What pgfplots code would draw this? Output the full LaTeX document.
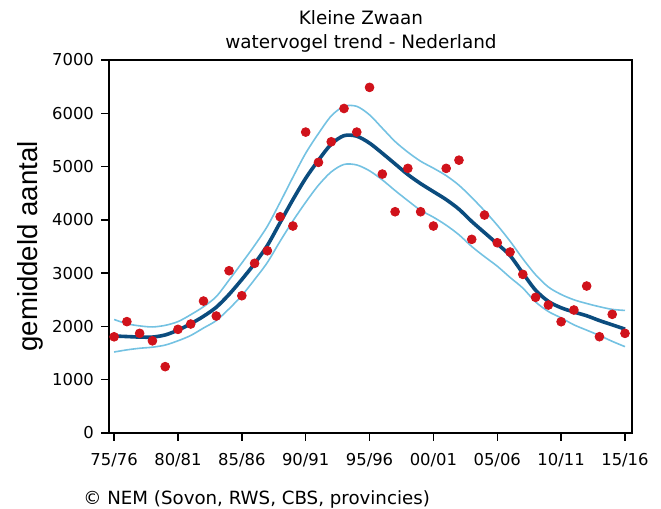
\documentclass[border=0pt]{standalone}
\usepackage{pgfplots}
\pgfplotsset{compat=1.18}
\usepackage{pgfplotstable}
\usepackage{fontspec}
\setmainfont{DejaVu Sans}
\newfontfamily\labelfont{Liberation Sans}

\definecolor{dotred}{HTML}{D0121B}
\definecolor{trendblue}{HTML}{0B4C7E}
\definecolor{cilight}{HTML}{74C2E2}

% season index (0 = 75/76), count, trend, lower and upper band
\pgfplotstableread{
i cnt trend lo hi
0 1805 1820 1520 2130
1 2090 1810 1560 2050
2 1870 1800 1590 2010
3 1730 1800 1610 1990
4 1245 1840 1650 2020
5 1945 1930 1730 2090
6 2045 2050 1830 2220
7 2476 2190 1970 2370
8 2195 2360 2110 2560
9 3045 2600 2330 2870
10 2576 2880 2580 3190
11 3184 3180 2880 3520
12 3420 3520 3200 3880
13 4058 3950 3600 4330
14 3884 4380 3980 4800
15 5647 4780 4330 5250
16 5079 5120 4650 5620
17 5465 5420 4900 5950
18 6090 5580 5040 6130
19 5647 5570 5030 6130
20 6486 5440 4920 5970
21 4859 5250 4750 5720
22 4152 5050 4550 5470
23 4966 4850 4360 5270
24 4152 4680 4180 5100
25 3884 4530 4050 4970
26 4966 4380 3900 4830
27 5120 4200 3720 4650
28 3634 3970 3500 4420
29 4090 3760 3310 4170
30 3570 3550 3130 3900
31 3396 3330 2920 3600
32 2977 3000 2720 3270
33 2546 2680 2460 2970
34 2401 2470 2280 2740
35 2088 2350 2160 2600
36 2308 2270 2030 2500
37 2758 2200 1930 2430
38 1807 2110 1830 2370
39 2227 2030 1720 2320
40 1870 1950 1620 2300
}\zwaan

\begin{document}
\begin{tikzpicture}
\begin{axis}[
  name=ax,
  scale only axis,
  width=261.5pt, height=186.5pt,
  xmin=-0.4, xmax=40.55,
  ymin=0, ymax=7000,
  xtick={0,5,...,40},
  xticklabels={75/76,80/81,85/86,90/91,95/96,00/01,05/06,10/11,15/16},
  ytick={0,1000,...,7000},
  tick pos=left,
  tick align=outside,
  major tick length=4pt,
  tick style={black, line width=0.7pt},
  axis line style={line width=0.9pt},
  ticklabel style={font=\fontsize{8.2}{10}\selectfont},
  xticklabel style={yshift=-2.5pt},
  /pgf/number format/assume math mode=true,
  /pgf/number format/1000 sep={},
  scaled y ticks=false,
]
\addplot[cilight, line width=0.8pt, smooth] table[x=i, y=hi] {\zwaan};
\addplot[cilight, line width=0.8pt, smooth] table[x=i, y=lo] {\zwaan};
\addplot[trendblue, line width=1.8pt, smooth] table[x=i, y=trend] {\zwaan};
\addplot[only marks, mark=*, mark size=2.2pt, color=dotred] table[x=i, y=cnt] {\zwaan};
\end{axis}
% titles, axis label and source
\node[font=\fontsize{9.2}{11}\selectfont] at ([shift={(126pt,21pt)}]ax.south west |- ax.north) {Kleine Zwaan};
\node[font=\fontsize{9.2}{11}\selectfont] at ([shift={(126pt,8.5pt)}]ax.south west |- ax.north) {watervogel trend - Nederland};
\node[rotate=90, font=\labelfont\fontsize{13.8}{15}\selectfont] at ([xshift=-39.5pt]ax.west) {gemiddeld aantal};
\node[anchor=west, font=\fontsize{9.1}{11}\selectfont, inner sep=0pt] at ([shift={(-13pt,-33pt)}]ax.south west) {© NEM (Sovon, RWS, CBS, provincies)};
\pgfresetboundingbox
\path[use as bounding box] ([shift={(-54.5pt,-38pt)}]ax.south west) rectangle ([shift={(14.5pt,30pt)}]ax.north east);
\end{tikzpicture}
\end{document}
